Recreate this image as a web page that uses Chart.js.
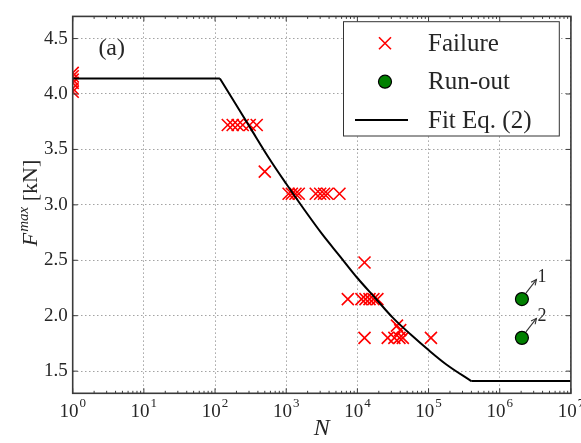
<!DOCTYPE html>
<html><head><meta charset="utf-8">
<script src="https://cdn.jsdelivr.net/npm/chart.js@4.4.1/dist/chart.umd.min.js"></script>
<style>html,body{margin:0;padding:0;background:#fff;}canvas{display:block;}</style>
</head><body>
<canvas id="c" width="581" height="443"></canvas>
<script>
// ---- data ----
const failureN = [1, 1, 1, 1, 1, 1,
  151, 177, 208, 245, 307, 385,
  500,
  1080, 1200, 1350, 1500, 2600, 3000, 3400, 3800, 5600,
  12600,
  7340, 11400, 13000, 14800, 16800, 19100,
  36000, 40000,
  12600, 26700, 33100, 39000, 43500, 108000];
const failureF = [4.19, 4.16, 4.13, 4.10, 4.05, 4.02,
  3.72, 3.72, 3.72, 3.72, 3.72, 3.72,
  3.30,
  3.10, 3.10, 3.10, 3.10, 3.10, 3.10, 3.10, 3.10, 3.10,
  2.48,
  2.15, 2.15, 2.15, 2.15, 2.15, 2.15,
  1.91, 1.87,
  1.80, 1.80, 1.80, 1.80, 1.80, 1.80];
const runoutN = [2050000, 2050000];
const runoutF = [2.15, 1.80];
const runoutLabels = ['1', '2'];
// fit curve: plateau, curved part, plateau
const fitN = [1, 117, 178, 316, 562, 1000, 1778, 3162, 5623, 10000, 17783, 31623, 56234, 100000, 177828, 398107, 10000000];
const fitF = [4.14, 4.14, 3.95, 3.69, 3.43, 3.19, 2.96, 2.74, 2.54, 2.34, 2.16, 1.98, 1.83, 1.69, 1.56, 1.41, 1.41];
const xTickExponents = [0, 1, 2, 3, 4, 5, 6, 7];
const yTicks = [1.5, 2.0, 2.5, 3.0, 3.5, 4.0, 4.5];
const legendLabels = ['Failure', 'Run-out', 'Fit Eq. (2)'];
const panelLabel = '(a)';

const SERIF = '"Liberation Serif", "DejaVu Serif", serif';
const TXT = '#262626';
const FRAME = '#3a3a3a';

const zip = (xs, ys) => xs.map((x, i) => ({x: x, y: ys[i]}));
const fitPts = zip(fitN, fitF);
const lastIdx = fitPts.length - 1;

const decorations = {
  id: 'decor',
  afterDraw(chart) {
    const ctx = chart.ctx, a = chart.chartArea;
    const xs = chart.scales.x, ys = chart.scales.y;
    ctx.save();
    // frame
    ctx.strokeStyle = FRAME; ctx.lineWidth = 1.6;
    ctx.strokeRect(a.left, a.top, a.right - a.left, a.bottom - a.top);
    // inward ticks
    ctx.lineWidth = 1;
    ctx.beginPath();
    for (const e of xTickExponents) {
      for (let m = 1; m <= 9; m++) {
        const v = m * Math.pow(10, e);
        if (v > 1e7) break;
        const px = xs.getPixelForValue(v);
        const len = m === 1 ? 5 : 2.5;
        ctx.moveTo(px, a.bottom); ctx.lineTo(px, a.bottom - len);
        ctx.moveTo(px, a.top); ctx.lineTo(px, a.top + len);
      }
    }
    for (const v of yTicks) {
      const py = ys.getPixelForValue(v);
      ctx.moveTo(a.left, py); ctx.lineTo(a.left + 5, py);
      ctx.moveTo(a.right, py); ctx.lineTo(a.right - 5, py);
    }
    ctx.stroke();
    // x tick labels 10^e
    ctx.fillStyle = TXT;
    ctx.textBaseline = 'alphabetic';
    ctx.textAlign = 'left';
    for (const e of xTickExponents) {
      const px = xs.getPixelForValue(Math.pow(10, e));
      ctx.font = '19px ' + SERIF;
      const w1 = ctx.measureText('10').width;
      ctx.font = '13px ' + SERIF;
      const w2 = ctx.measureText(String(e)).width;
      const start = px - (w1 + w2 + 1) / 2;
      ctx.font = '19px ' + SERIF;
      ctx.fillText('10', start, 417);
      ctx.font = '13px ' + SERIF;
      ctx.fillText(String(e), start + w1 + 1, 407);
    }
    // y title F^max [kN]
    ctx.save();
    ctx.translate(28, 203);
    ctx.rotate(-Math.PI / 2);
    const p1 = 'F', p2 = 'max', p3 = ' [kN]';
    ctx.font = 'italic 22px ' + SERIF; const a1 = ctx.measureText(p1).width;
    ctx.font = 'italic 15px ' + SERIF; const a2 = ctx.measureText(p2).width;
    ctx.font = '22px ' + SERIF; const a3 = ctx.measureText(p3).width;
    let sx = -(a1 + a2 + a3 + 1) / 2;
    ctx.font = 'italic 22px ' + SERIF; ctx.fillText(p1, sx, 9); sx += a1 + 1;
    ctx.font = 'italic 15px ' + SERIF; ctx.fillText(p2, sx, 0); sx += a2;
    ctx.font = '22px ' + SERIF; ctx.fillText(p3, sx, 9);
    ctx.restore();
    // panel label
    ctx.font = '24px ' + SERIF;
    ctx.textAlign = 'center'; ctx.textBaseline = 'middle';
    ctx.fillText(panelLabel, a.left + 39, a.top + 32);
    // run-out annotations
    const meta = chart.getDatasetMeta(3);
    ctx.strokeStyle = '#333'; ctx.lineWidth = 1.1;
    meta.data.forEach((pt, i) => {
      const x0 = pt.x + 4, y0 = pt.y - 6, x1 = pt.x + 14.5, y1 = pt.y - 19.5;
      ctx.beginPath(); ctx.moveTo(x0, y0); ctx.lineTo(x1, y1); ctx.stroke();
      const ang = Math.atan2(y1 - y0, x1 - x0);
      ctx.beginPath();
      ctx.moveTo(x1 - 6 * Math.cos(ang - 0.45), y1 - 6 * Math.sin(ang - 0.45));
      ctx.lineTo(x1, y1);
      ctx.lineTo(x1 - 6 * Math.cos(ang + 0.45), y1 - 6 * Math.sin(ang + 0.45));
      ctx.stroke();
      ctx.font = '18px ' + SERIF; ctx.fillStyle = TXT;
      ctx.textAlign = 'center'; ctx.textBaseline = 'middle';
      ctx.fillText(runoutLabels[i], pt.x + 20, pt.y - 22);
    });
    // legend
    const L = 343.5, T = 21.7, R = 559.3, B = 136;
    ctx.fillStyle = '#fff';
    ctx.fillRect(L, T, R - L, B - T);
    ctx.strokeStyle = '#333'; ctx.lineWidth = 1;
    ctx.strokeRect(L, T, R - L, B - T);
    const rows = [43.3, 81.7, 120];
    const mx = 385;
    ctx.strokeStyle = '#ff0000'; ctx.lineWidth = 1.6;
    ctx.beginPath();
    ctx.moveTo(mx - 6, rows[0] - 6); ctx.lineTo(mx + 6, rows[0] + 6);
    ctx.moveTo(mx - 6, rows[0] + 6); ctx.lineTo(mx + 6, rows[0] - 6);
    ctx.stroke();
    ctx.fillStyle = '#008000'; ctx.strokeStyle = '#000'; ctx.lineWidth = 1.2;
    ctx.beginPath(); ctx.arc(mx, rows[1], 6.5, 0, Math.PI * 2); ctx.fill(); ctx.stroke();
    ctx.strokeStyle = '#000'; ctx.lineWidth = 2;
    ctx.beginPath(); ctx.moveTo(355, rows[2]); ctx.lineTo(408, rows[2]); ctx.stroke();
    ctx.fillStyle = TXT; ctx.font = '25px ' + SERIF;
    ctx.textAlign = 'left'; ctx.textBaseline = 'middle';
    legendLabels.forEach((t, i) => ctx.fillText(t, 428, rows[i] + 1));
    ctx.restore();
  }
};

const gridOpts = {color: 'rgba(0,0,0,0.36)', lineWidth: 1, drawTicks: false};
const fitStyle = {type: 'line', borderColor: '#000', borderWidth: 2, pointRadius: 0, fill: false, showLine: true};

new Chart(document.getElementById('c'), {
  type: 'scatter',
  data: {datasets: [
    Object.assign({label: legendLabels[2], data: fitPts.slice(1, lastIdx), cubicInterpolationMode: 'monotone'}, fitStyle),
    Object.assign({label: legendLabels[2] + ' plateau', data: fitPts.slice(0, 2), tension: 0}, fitStyle),
    Object.assign({label: legendLabels[2] + ' endurance', data: fitPts.slice(lastIdx - 1), tension: 0}, fitStyle),
    {label: legendLabels[1], data: zip(runoutN, runoutF), pointStyle: 'circle', pointRadius: 6.5,
     backgroundColor: '#008000', borderColor: '#000', borderWidth: 1.2},
    {label: legendLabels[0], data: zip(failureN, failureF), pointStyle: 'crossRot', pointRadius: 8.5,
     borderColor: '#ff0000', backgroundColor: '#ff0000', borderWidth: 1.6, clip: 0}
  ]},
  options: {
    responsive: false, animation: false, devicePixelRatio: 1, events: [],
    layout: {padding: {left: 0, right: 9.3, top: 7.3, bottom: 0}},
    plugins: {legend: {display: false}, tooltip: {enabled: false}},
    scales: {
      x: {
        type: 'logarithmic', min: 1, max: 1e7,
        afterBuildTicks(s) { s.ticks = xTickExponents.map(e => ({value: Math.pow(10, e)})); },
        afterFit(s) { s.height = 49.7; s.paddingLeft = 0; s.paddingRight = 0; },
        ticks: {display: false},
        grid: gridOpts,
        border: {display: false, dash: [1.5, 2.5]},
        title: {display: true, text: 'N', color: TXT, font: {family: SERIF, size: 24, style: 'italic'}, padding: {top: 0, bottom: 0}}
      },
      y: {
        min: 1.3, max: 4.7,
        afterBuildTicks(s) { s.ticks = yTicks.map(v => ({value: v})); },
        afterFit(s) { s.width = 72.7; },
        ticks: {callback: v => Number(v).toFixed(1), color: TXT, font: {family: SERIF, size: 19}, padding: 5},
        grid: gridOpts,
        border: {display: false, dash: [1.5, 2.5]}
      }
    }
  },
  plugins: [decorations]
});
</script>
</body></html>
